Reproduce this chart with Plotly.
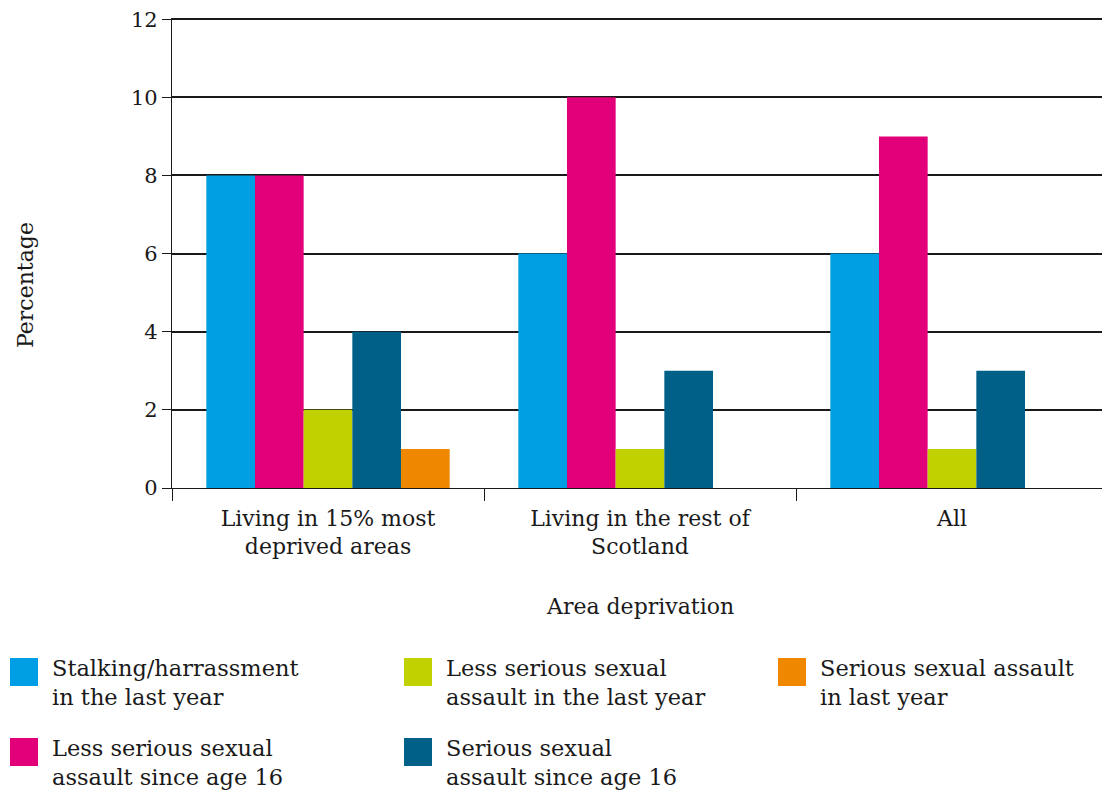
import plotly.graph_objects as go

categories = ["Living in 15% most<br>deprived areas", "Living in the rest of<br>Scotland", "All"]

series_names = [
    "Stalking/harrassment<br>in the last year",
    "Less serious sexual<br>assault since age 16",
    "Less serious sexual<br>assault in the last year",
    "Serious sexual<br>assault since age 16",
    "Serious sexual assault<br>in last year",
]
stalking = [8, 6, 6]
less_serious_since16 = [8, 10, 9]
less_serious_last_year = [2, 1, 1]
serious_since16 = [4, 3, 3]
serious_last_year = [1, None, None]

series_values = [stalking, less_serious_since16, less_serious_last_year, serious_since16, serious_last_year]
colors = ["#009FE3", "#E2007A", "#C1D100", "#006087", "#F08700"]

y_ticks = [0, 2, 4, 6, 8, 10, 12]

FONT = "Georgia, 'DejaVu Serif', serif"
OFF = 8  # page body margin
W, H = 1110, 796
L, T = 172 - OFF, 18 - OFF
PLOT_R, PLOT_B = 1108 - OFF, 488 - OFF
R, B = W - PLOT_R, H - PLOT_B
PW, PH = PLOT_R - L, PLOT_B - T


def px(x):
    return (x - OFF - L) / PW


def py(y):
    return (PLOT_B - (y - OFF)) / PH


fig = go.Figure()
for name, vals, col in zip(series_names, series_values, colors):
    fig.add_trace(go.Bar(x=categories, y=vals, name=name, marker=dict(color=col, line=dict(width=0)),
                         showlegend=False))

fig.update_layout(
    width=W, height=H,
    margin=dict(l=L, r=R, t=T, b=B, autoexpand=False),
    paper_bgcolor="white", plot_bgcolor="white",
    barmode="group", bargap=0.22, bargroupgap=0,
    font=dict(family=FONT, size=21, color="#1a1a1a"),
    xaxis=dict(
        type="category", tickson="boundaries", ticks="outside", ticklen=12, tickcolor="#1a1a1a",
        tickwidth=1.2, showgrid=False, showline=True, linecolor="#1a1a1a", linewidth=1.2,
        tickfont=dict(size=22, family=FONT), zeroline=False, ticklabelstandoff=10,
        automargin=False,
    ),
    yaxis=dict(
        range=[0, 12.03], tickvals=y_ticks, ticks="outside", ticklen=9, tickcolor="#1a1a1a",
        tickwidth=1.2, showgrid=True, gridcolor="#1a1a1a", gridwidth=1.5,
        showline=True, linecolor="#1a1a1a", linewidth=1.2, zeroline=False,
        tickfont=dict(size=21, family=FONT), ticklabeloverflow="allow", automargin=False,
    ),
)

# axis titles
fig.add_annotation(text="Area deprivation", xref="paper", yref="paper", x=px(640), y=py(607),
                   showarrow=False, font=dict(size=22, family=FONT), xanchor="center", yanchor="middle")
fig.add_annotation(text="Percentage", xref="paper", yref="paper", x=px(25), y=py(285), textangle=-90,
                   showarrow=False, font=dict(size=22, family=FONT), xanchor="center", yanchor="middle")

# custom legend with large square swatches
legend_pos = [(10, 658), (10, 738), (404, 658), (404, 738), (778, 658)]
for name, col, (lx, ly) in zip(series_names, colors, legend_pos):
    fig.add_shape(type="rect", xref="paper", yref="paper",
                  x0=px(lx), x1=px(lx + 28), y0=py(ly), y1=py(ly + 28),
                  fillcolor=col, line=dict(width=0))
    fig.add_annotation(text=name, xref="paper", yref="paper", x=px(lx + 40), y=py(ly - 5),
                       showarrow=False, align="left", xanchor="left", yanchor="top",
                       font=dict(size=22.5, family=FONT))

fig.write_html("out.html")
